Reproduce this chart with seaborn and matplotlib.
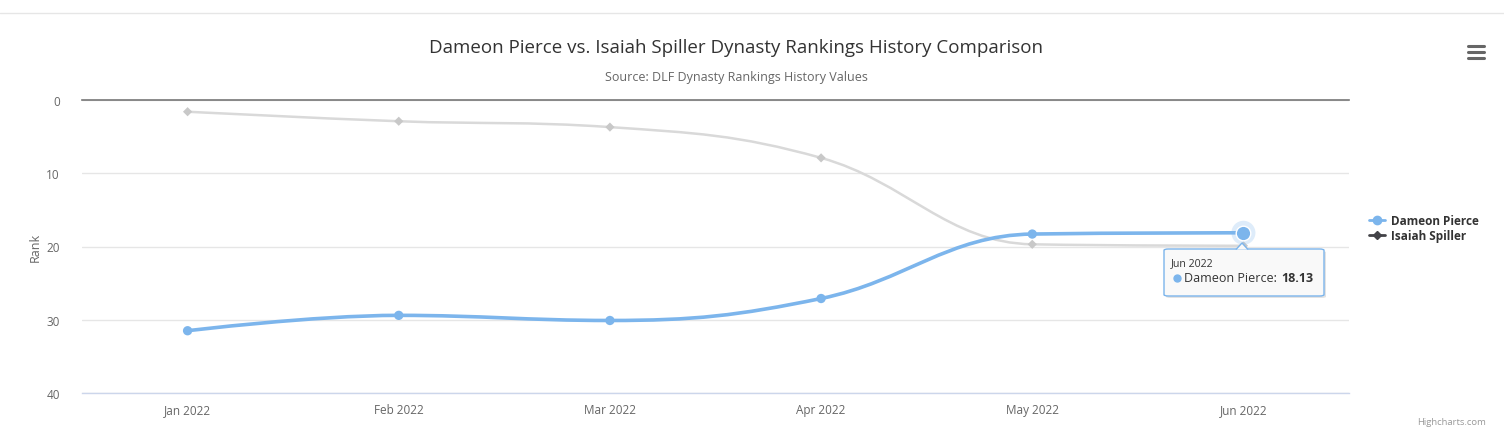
import numpy as np
import pandas as pd
import matplotlib
matplotlib.use("Agg")
import matplotlib.pyplot as plt
import seaborn as sns
from matplotlib.path import Path
from matplotlib.patches import PathPatch, FancyBboxPatch, Polygon
from matplotlib.lines import Line2D

months = ["Jan 2022", "Feb 2022", "Mar 2022", "Apr 2022", "May 2022", "Jun 2022"]
pierce = [31.5, 29.4, 30.1, 27.1, 18.3, 18.13]
spiller = [1.6, 2.9, 3.7, 7.9, 19.7, 19.9]
y_ticks = [0, 10, 20, 30, 40]
title = "Dameon Pierce vs. Isaiah Spiller Dynasty Rankings History Comparison"
subtitle = "Source: DLF Dynasty Rankings History Values"

sns.set_theme(style="white")
plt.rcParams['font.family'] = ['Open Sans', 'DejaVu Sans']

df = pd.DataFrame({"month": months * 2,
                   "x": list(range(len(months))) * 2,
                   "rank": pierce + spiller,
                   "player": ["Dameon Pierce"] * 6 + ["Isaiah Spiller"] * 6})

fig = plt.figure(figsize=(15.04, 4.35), dpi=100)
ax = fig.add_axes([82 / 1504, 1 - 394 / 435, (1349 - 82) / 1504, (394 - 101) / 435])

BLUE = "#7cb5ec"
GRAY_LINE = "#d9d9d9"
GRAY_MARK = "#c8c8c8"


def spline_path(xs, ys, smoothing=1.5):
    # Highcharts-style spline through the data points, in data coordinates
    n = len(xs)
    left = [None] * n
    right = [None] * n
    denom = smoothing + 1
    for i in range(n):
        if 0 < i < n - 1:
            lx = (smoothing * xs[i] + xs[i - 1]) / denom
            ly = (smoothing * ys[i] + ys[i - 1]) / denom
            rx = (smoothing * xs[i] + xs[i + 1]) / denom
            ry = (smoothing * ys[i] + ys[i + 1]) / denom
            if rx != lx:
                corr = (ry - ly) * (rx - xs[i]) / (rx - lx) + ys[i] - ry
                ly += corr
                ry += corr
            if ly > ys[i - 1] and ly > ys[i]:
                ly = max(ys[i - 1], ys[i]); ry = 2 * ys[i] - ly
            elif ly < ys[i - 1] and ly < ys[i]:
                ly = min(ys[i - 1], ys[i]); ry = 2 * ys[i] - ly
            if ry > ys[i + 1] and ry > ys[i]:
                ry = max(ys[i + 1], ys[i]); ly = 2 * ys[i] - ry
            elif ry < ys[i + 1] and ry < ys[i]:
                ry = min(ys[i + 1], ys[i]); ly = 2 * ys[i] - ry
            left[i] = (lx, ly)
            right[i] = (rx, ry)
        else:
            left[i] = (xs[i], ys[i])
            right[i] = (xs[i], ys[i])
    verts = [(xs[0], ys[0])]
    codes = [Path.MOVETO]
    for i in range(1, n):
        verts += [right[i - 1], left[i], (xs[i], ys[i])]
        codes += [Path.CURVE4] * 3
    return Path(verts, codes)


xs = list(range(len(months)))
ax.add_patch(PathPatch(spline_path(xs, spiller), fill=False, edgecolor=GRAY_LINE, lw=1.8, zorder=2))
ax.add_patch(PathPatch(spline_path(xs, pierce), fill=False, edgecolor=BLUE, lw=2.6, zorder=3))

sns.scatterplot(data=df[df.player == "Isaiah Spiller"], x="x", y="rank", marker="D", s=22,
                color=GRAY_MARK, edgecolor="none", ax=ax, zorder=4, legend=False)
sns.scatterplot(data=df[df.player == "Dameon Pierce"], x="x", y="rank", marker="o", s=45,
                color=BLUE, edgecolor="none", ax=ax, zorder=5, legend=False)
# hovered point
ax.scatter([xs[-1]], [pierce[-1]], s=300, color=BLUE, alpha=0.25, edgecolor="none", zorder=5)
ax.scatter([xs[-1]], [pierce[-1]], s=110, color=BLUE, edgecolor="white", linewidth=1, zorder=6)

ax.set_xlim(-0.5, len(months) - 0.5)
ax.set_ylim(40, 0)
ax.set_yticks(y_ticks)
ax.set_xticks(xs)
ax.set_xticklabels(months)
ax.set_xlabel("")
ax.set_ylabel("Rank", fontsize=9, color="#666666", labelpad=3)
ax.tick_params(axis="both", length=0, labelsize=8.5, colors="#666666")
ax.tick_params(axis="x", pad=7)
ax.tick_params(axis="y", pad=16)
for lab in ax.get_yticklabels():
    lab.set_horizontalalignment("right")
ax.grid(axis="y", color="#e6e6e6", lw=1)
ax.grid(axis="x", visible=False)
for s in ["left", "right"]:
    ax.spines[s].set_visible(False)
ax.spines["top"].set_color("#777777")
ax.spines["top"].set_linewidth(1.2)
ax.spines["bottom"].set_color("#ccd6eb")
ax.spines["bottom"].set_linewidth(1)

# titles
fig.text(736 / 1504, 1 - 48 / 435, title, ha="center", va="center", fontsize=13.5, color="#333333")
fig.text(736 / 1504, 1 - 78 / 435, subtitle, ha="center", va="center", fontsize=9, color="#666666")

# legend
handles = [Line2D([0], [0], color=BLUE, marker="o", markersize=6, lw=2),
           Line2D([0], [0], color="#434348", marker="D", markersize=4, lw=2)]
fig.legend(handles, ["Dameon Pierce", "Isaiah Spiller"], loc="center left",
           bbox_to_anchor=(1358 / 1504, 1 - 229 / 435), frameon=False, handlelength=1.4,
           handletextpad=0.5, labelspacing=0.15, prop={"size": 8.5, "weight": "bold"},
           labelcolor="#333333")

# tooltip
tx0, ty0, tx1, ty1 = 1164, 250, 1324, 297
shadow = FancyBboxPatch(((tx0 + 2) / 1504, 1 - (ty1 + 2) / 435), (tx1 - tx0) / 1504, (ty1 - ty0) / 435,
                        boxstyle="round,pad=0,rounding_size=0.003", transform=fig.transFigure,
                        facecolor="#e3e3e3", edgecolor="none", zorder=9)
fig.add_artist(shadow)
tip = FancyBboxPatch((tx0 / 1504, 1 - ty1 / 435), (tx1 - tx0) / 1504, (ty1 - ty0) / 435,
                     boxstyle="round,pad=0,rounding_size=0.003", transform=fig.transFigure,
                     facecolor="#f9f9f9", edgecolor=BLUE, lw=1, zorder=10)
fig.add_artist(tip)
arrow = Polygon([(1236 / 1504, 1 - 250.5 / 435), (1242 / 1504, 1 - 244 / 435), (1248 / 1504, 1 - 250.5 / 435)],
                closed=False, transform=fig.transFigure, facecolor="#f9f9f9", edgecolor=BLUE, lw=1, zorder=11)
fig.add_artist(arrow)
fig.text(1171 / 1504, 1 - 264 / 435, months[-1], fontsize=7.6, color="#333333", va="center", zorder=12)
fig.add_artist(Line2D([1177 / 1504], [1 - 279 / 435], marker="o", markersize=5, color=BLUE,
                      transform=fig.transFigure, zorder=12))
fig.text(1184 / 1504, 1 - 279 / 435, "Dameon Pierce:", fontsize=9, color="#333333", va="center", zorder=12)
fig.text(1281 / 1504, 1 - 279 / 435, f"{pierce[-1]:.2f}", fontsize=9, color="#333333",
         va="center", weight="bold", zorder=12)

# menu icon
for yy in [47, 53, 59]:
    fig.add_artist(Line2D([1468 / 1504, 1484 / 1504], [1 - yy / 435] * 2, color="#666666", lw=2.2,
                          solid_capstyle="round", transform=fig.transFigure))

# page top border
fig.add_artist(Line2D([0, 1], [1 - 14 / 435] * 2, color="#e6e6e6", lw=1, transform=fig.transFigure))

fig.text(1486 / 1504, 1 - 423 / 435, "Highcharts.com", ha="right", va="center", fontsize=6.8, color="#999999")

fig.savefig("out.png", dpi=100, facecolor="white")
